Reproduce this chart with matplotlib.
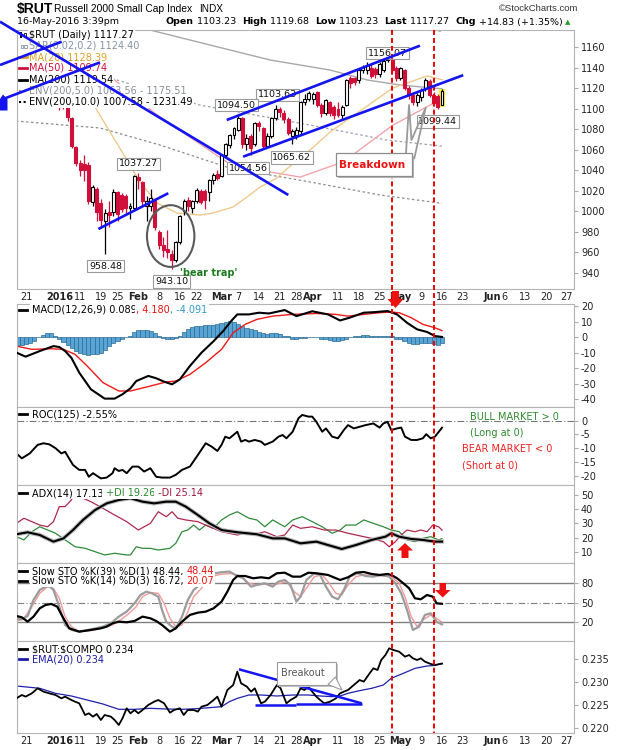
import matplotlib

matplotlib.use("Agg")

import matplotlib.pyplot as plt  # noqa: E402
import matplotlib.transforms as mtransforms  # noqa: E402
from matplotlib.lines import Line2D  # noqa: E402
from matplotlib.patches import Ellipse, Polygon, Rectangle  # noqa: E402

plt.rcParams["font.family"] = ["DejaVu Sans"]

# ---------------------------------------------------------------------------
# data: x is the trading-day index, 0 = 21 Dec 2015, 100 = 16 May 2016
# ---------------------------------------------------------------------------
DAY = list(range(8, 101))
OPEN = [1130, 1112, 1102, 1091, 1063, 1047, 1046, 1045, 1009, 1022, 1008, 990, 999,
        999, 1019, 1016, 1015, 1003, 1003, 1033, 1028, 1005, 1005, 1011, 980, 967, 963,
        958, 952, 970, 1000, 1011, 1003, 1010, 1020, 1020, 1019, 1030, 1036, 1034, 1055,
        1065, 1074, 1079, 1091, 1066, 1073, 1066, 1086, 1081, 1064, 1073, 1091, 1100,
        1096, 1090, 1073, 1074, 1078, 1107, 1110, 1110, 1116, 1104, 1096, 1107, 1102,
        1100, 1094, 1104, 1130, 1130, 1128, 1138, 1138, 1140, 1139, 1134, 1138, 1147.6,
        1152, 1140, 1130, 1138, 1120, 1113, 1107, 1111, 1120, 1127, 1113, 1112, 1103.23]
HIGH = [1136, 1120, 1104, 1092, 1064, 1050, 1055, 1048, 1026, 1024, 1012, 1002, 1010,
        1022, 1020, 1018, 1017, 1008, 1035, 1037.27, 1029, 1015, 1022, 1012, 982, 975,
        982, 962, 971, 996, 1012, 1014, 1011, 1023, 1022, 1022, 1031, 1037, 1040, 1056,
        1067, 1075, 1082, 1094.50, 1092, 1075, 1075, 1087, 1088, 1082, 1076, 1092,
        1103.63, 1102, 1099, 1092, 1080, 1082, 1108, 1114, 1117, 1116, 1117, 1106, 1110,
        1108, 1104, 1107, 1104, 1129, 1132, 1131, 1139, 1143, 1146, 1144, 1141, 1146,
        1149, 1156.07, 1153, 1142, 1141, 1139, 1122, 1116, 1115, 1120, 1130, 1129, 1116,
        1114, 1119.68]
LOW = [1099, 1100, 1088, 1062, 1044, 1034, 1029, 1007, 1005, 990, 984, 958.48, 985, 995,
       990, 999, 998, 992, 1000, 1022, 1005, 990, 1000, 982, 963, 955, 954, 943.10, 950,
       968, 996, 1000, 998, 1008, 1007, 1002, 1010, 1027, 1030, 1033, 1053, 1062, 1070,
       1078, 1062, 1060, 1054.56, 1064, 1078, 1062, 1062, 1071, 1089, 1092, 1086, 1074,
       1065.62, 1070, 1075, 1104, 1108, 1105, 1102, 1092, 1094, 1093, 1090, 1092, 1090,
       1103, 1120, 1123, 1125, 1135, 1134, 1130, 1130, 1131, 1136, 1146, 1135, 1127,
       1128, 1118, 1110, 1104, 1103, 1108, 1117, 1111, 1104, 1099.44, 1103.23]
CLOSE = [1112, 1104, 1092, 1064, 1047, 1040, 1040, 1010, 1024, 999, 991, 998, 996, 1019,
         997, 1002, 1003, 1005, 1034, 1030, 1010, 1010, 1013, 985, 967, 962, 960, 952,
         970, 995, 1010, 1005, 1010, 1021, 1009, 1011, 1030, 1035, 1032, 1055, 1066, 1074,
         1081, 1091, 1066, 1071, 1062, 1086, 1083, 1064, 1073, 1091, 1100, 1097, 1090,
         1076, 1078, 1079, 1107, 1110, 1115, 1114, 1104, 1096, 1108.6, 1096, 1094, 1094,
         1102, 1128, 1125, 1126, 1138, 1141, 1143, 1132, 1134, 1144, 1147, 1152, 1138,
         1130, 1140, 1120, 1113, 1107, 1113, 1118, 1128, 1113, 1106, 1102, 1117.27]

MA20_DAY = [10.6, 16.6, 27.4, 31.5, 36.3, 41.8, 45.0, 49.8, 53.1, 56.3, 60.3, 63.5,
            68.3, 73.1, 77.9, 83.4, 88.2, 93.0, 96.4, 100]
MA20_VAL = [1123, 1101.7, 1028.5, 1008.0, 998.2, 996.2, 998.2, 1004.1, 1013.8, 1023.6,
            1032.4, 1044.1, 1059.7, 1077.3, 1091.0, 1106.6, 1120.3, 1127.1, 1132.0, 1128.4]
MA50_DAY = [8.2, 17.8, 31.5, 49.0, 58.7, 65.9, 76.2, 88.2, 96.4, 100]
MA50_VAL = [1155, 1139.8, 1093.9, 1046.0, 1038.2, 1033.3, 1048.0, 1084.0, 1102.0, 1109.7]
MA200_DAY = [20, 29.8, 49.0, 58.7, 73.1, 82.0, 89.9, 100]
MA200_VAL = [1190, 1176.9, 1157.4, 1147.6, 1137.8, 1128.1, 1123.2, 1119.5]
ENV5_LO_DAY = [8, 17.8, 41.8, 68.3, 86.8, 100]
ENV5_LO_VAL = [1145, 1133.1, 1103.6, 1084.1, 1069.4, 1063.5]
ENV5_UP_DAY = [86, 93.9, 100]
ENV5_UP_VAL = [1182, 1177.5, 1175.5]
ENV10_LO_DAY = [-2.4, 17.8, 32.2, 49.0, 68.3, 85.1, 100]
ENV10_LO_VAL = [1088, 1081.2, 1064.6, 1042.1, 1028.5, 1015.8, 1007.6]

MACD_DAY = [-2.3, -0.1, 3.3, 6.6, 8.0, 9.4, 10.9, 12.8, 15.6, 18.9, 21.3, 23.2, 25.1,
            26.5, 29.4, 31.3, 33.2, 35.1, 37.0, 39.4, 42.2, 45.1, 47.4, 49.3, 50.8, 53.6,
            56.0, 58.4, 62.2, 65.0, 68.8, 72.6, 75.5, 77.8, 81.2, 84.0, 86.9, 89.2, 91.6,
            94.0, 96.4, 98.3, 100]
MACD_VAL = [-10.0, -12.6, -9.0, -5.8, -6.4, -9.0, -13.3, -22.9, -33.6, -39.6, -39.6,
            -36.8, -33.0, -28.3, -25.0, -26.5, -28.7, -30.4, -27.2, -18.6, -10.0, -2.6,
            3.9, 10.3, 14.6, 14.6, 15.7, 15.2, 17.4, 13.5, 16.6, 14.6, 10.7, 12.5, 15.7,
            16.1, 16.8, 14.6, 9.2, 5.0, 3.3, 0.7, 0.089]
SIGNAL_DAY = [-2.3, 1.4, 6.1, 9.0, 11.8, 14.7, 18.5, 22.3, 25.1, 29.9, 33.7, 36.0, 39.4,
              43.2, 47.0, 49.8, 52.7, 55.5, 59.3, 64.1, 69.8, 74.5, 77.4, 81.2, 85.0,
              87.8, 89.7, 92.6, 95.4, 98.3, 100]
SIGNAL_VAL = [-5.8, -7.9, -7.5, -7.9, -11.1, -18.6, -29.3, -34.7, -34.7, -31.5, -28.9,
              -28.3, -24.0, -16.5, -7.9, 2.8, 8.2, 11.4, 13.5, 14.6, 15.2, 14.6, 13.5,
              14.6, 15.7, 16.1, 15.7, 12.5, 8.2, 6.0, 4.18]
HIST_DAY = list(range(-2, 101))
HIST_VAL = [-5, -5, -4.5, -3.5, -2.5, 0, 1.5, 2.5, 2.5, 1, -1, -3, -5, -7, -9, -10, -11,
            -11.5, -11, -11, -10.5, -8, -6, -4, -2.5, -1.5, 0, 1, 3, 4.5, 4.5, 4.5, 4,
            2.5, 1, -0.5, -1, -1, -0.5, 1, 3, 5, 6.5, 7, 7, 7.5, 8, 8, 8.5, 9, 10, 10.5,
            9.5, 8.5, 7, 6, 5.5, 4.5, 3, 2.5, 2, 2.5, 2.5, 2, 1, 0.5, -1, -1, -0.5, -0.5,
            0, 0, 0, -1, -1.5, -2, -2.5, -2.5, -2, -1, 0, 0.5, 1, 1.5, 1.5, 1, 1, 1, 1,
            1, 0.5, -1, -1.5, -2.5, -3.5, -4.5, -4.5, -4, -4, -4, -4.5, -5, -4.1]

ROC_DAY = [-2.3, -1.0, 0.9, 2.8, 4.2, 5.6, 7.1, 8.5, 9.4, 11.3, 12.8, 14.2, 15.1, 16.1,
           18.0, 19.4, 20.8, 21.3, 22.3, 23.2, 24.2, 25.6, 27.0, 28.4, 29.9, 31.3, 32.7,
           34.6, 36.0, 37.5, 39.4, 41.3, 43.2, 44.6, 46.0, 47.0, 47.9, 48.9, 50.8, 51.7,
           52.7, 53.6, 55.0, 56.5, 57.4, 59.3, 60.7, 61.7, 62.6, 64.1, 65.5, 66.4, 67.9,
           68.8, 69.8, 71.2, 72.1, 73.6, 75.0, 76.4, 77.4, 78.8, 80.2, 81.6, 83.5, 85.0,
           85.9, 86.9, 87.8, 89.2, 90.2, 91.1, 92.6, 94.0, 95.4, 96.2, 97.3, 98.3, 100]
ROC_VAL = [-11.9, -13.7, -11.9, -8.8, -8.2, -8.6, -10.0, -11.9, -11.3, -16.1, -17.9,
           -17.9, -20.4, -19.1, -21.0, -20.7, -19.1, -17.3, -18.3, -17.9, -19.1, -16.7,
           -16.7, -18.5, -17.3, -20.4, -20.7, -20.7, -19.7, -17.9, -16.7, -12.5, -8.2,
           -9.4, -11.0, -8.8, -5.8, -6.4, -4.0, -7.6, -7.0, -7.6, -7.0, -7.6, -8.8, -7.6,
           -5.8, -5.2, -6.4, -4.0, 0.9, 2.1, 1.5, 1.5, -0.4, -4.0, -2.8, -5.8, -6.4, -3.4,
           -1.6, -2.8, -2.2, -1.6, -1.0, -2.5, -1.0, -0.4, -3.4, -2.8, -2.5, -5.8, -7.0,
           -7.0, -6.4, -4.9, -6.4, -5.8, -2.55]

ADX_DAY = [-2.3, 0.4, 3.3, 6.6, 9.0, 11.3, 13.7, 16.6, 19.4, 22.3, 25.1, 28.0, 30.8,
           33.7, 36.0, 38.4, 41.3, 44.1, 47.0, 50.8, 55.5, 59.3, 62.2, 66.0, 69.8, 72.6,
           75.9, 79.3, 83.1, 86.4, 87.8, 89.7, 92.6, 95.4, 98.3, 100]
ADX_VAL = [22.3, 23.7, 21.8, 17.1, 19.4, 25.3, 32.4, 39.4, 44.1, 46.5, 47.7, 45.3, 44.1,
           45.3, 45.3, 41.8, 35.9, 30.0, 25.3, 23.7, 22.3, 19.4, 19.4, 15.9, 17.1, 14.7,
           11.9, 14.7, 18.3, 20.6, 23.0, 20.6, 19.0, 18.3, 17.1, 17.13]
PDI_DAY = [-2.3, -0.5, 1.4, 3.3, 5.2, 7.1, 9.4, 11.8, 14.2, 16.6, 18.9, 21.3, 24.2, 25.1,
           26.5, 28.0, 29.9, 31.8, 34.6, 36.0, 37.5, 38.9, 40.3, 41.7, 43.2, 45.1, 47.0,
           48.9, 50.8, 52.2, 53.6, 55.5, 57.4, 59.3, 62.2, 64.1, 66.4, 68.8, 71.2, 73.6,
           75.5, 76.9, 79.3, 81.2, 83.5, 85.9, 87.8, 89.7, 91.6, 93.5, 95.4, 97.3, 99.2,
           100]
PDI_VAL = [20.6, 18.3, 24.1, 27.6, 25.3, 23.0, 18.3, 13.5, 12.4, 10.0, 7.7, 8.9, 7.7, 7.7,
           13.5, 12.4, 12.4, 11.2, 12.4, 15.9, 24.1, 25.3, 28.8, 25.3, 28.8, 26.5, 32.4,
           35.9, 38.2, 35.9, 33.6, 32.4, 27.6, 32.4, 27.6, 32.4, 34.7, 31.2, 27.6, 23.0,
           25.3, 28.8, 28.8, 32.4, 30.0, 27.6, 25.3, 24.1, 18.3, 17.1, 19.4, 20.6, 18.3,
           19.26]
MDI_DAY = [-2.3, -0.5, 1.4, 3.3, 5.2, 6.6, 8.0, 9.4, 10.9, 12.3, 13.7, 15.6, 18.5, 21.3,
           24.2, 27.0, 29.9, 31.8, 33.7, 35.1, 36.5, 38.4, 41.3, 44.1, 47.0, 50.8, 52.7,
           54.6, 57.4, 60.3, 62.2, 64.1, 66.0, 68.8, 71.7, 74.5, 77.4, 79.3, 83.1, 85.9,
           87.3, 88.8, 90.2, 91.6, 93.5, 94.9, 96.4, 97.8, 99.2, 100]
MDI_VAL = [30.0, 33.6, 31.2, 28.8, 27.6, 31.2, 41.8, 41.8, 46.5, 54.0, 47.7, 45.3, 40.6,
           35.9, 31.2, 25.3, 30.0, 38.2, 34.7, 38.2, 33.6, 32.4, 31.2, 27.6, 24.1, 21.8,
           23.0, 21.8, 24.1, 20.6, 21.8, 28.8, 26.5, 27.6, 25.3, 25.3, 23.0, 21.8, 19.4,
           17.1, 13.5, 17.1, 21.8, 25.3, 24.1, 25.3, 24.1, 28.8, 27.6, 25.14]

STO39_DAY = [-2.3, -1.0, 0.4, 1.8, 3.3, 4.7, 6.1, 7.5, 9.0, 10.4, 12.8, 15.6, 18.0, 19.4,
             20.8, 22.3, 24.2, 26.1, 28.0, 29.9, 31.3, 32.7, 34.6, 36.0, 37.5, 39.4, 41.3,
             43.2, 45.1, 47.0, 48.4, 49.8, 50.8, 52.7, 54.6, 56.5, 58.4, 60.3, 62.2, 64.1,
             66.0, 67.9, 69.8, 72.6, 75.5, 77.4, 79.3, 81.2, 83.1, 85.0, 86.9, 87.8, 89.2,
             90.7, 92.1, 93.5, 94.9, 96.4, 97.8, 98.7, 100]
STO39_VAL = [29.7, 27.6, 21.0, 28.7, 41.5, 46.6, 48.2, 44.1, 26.1, 10.7, 5.6, 8.2, 10.7,
             13.3, 18.4, 21.0, 20.0, 22.0, 28.7, 26.1, 22.0, 15.8, 5.6, 10.7, 21.0, 31.3,
             34.8, 36.4, 41.5, 51.7, 67.1, 85.1, 91.2, 91.2, 87.7, 89.2, 87.7, 95.4, 96.3,
             90.2, 90.2, 96.3, 95.4, 92.8, 85.1, 89.2, 96.3, 97.4, 94.3, 92.8, 94.3, 92.8,
             87.7, 80.0, 72.3, 56.9, 55.4, 62.0, 59.4, 49.2, 48.44]
STO14_DAY = [-2.3, -1.0, 0.4, 1.8, 3.3, 4.7, 5.6, 6.6, 8.0, 9.4, 10.9, 12.8, 15.6, 18.5,
             20.4, 22.3, 24.2, 26.1, 27.5, 28.9, 30.3, 31.8, 32.7, 33.7, 35.1, 36.0, 37.5,
             38.9, 40.3, 41.7, 42.7, 43.6, 45.1, 47.0, 48.9, 50.8, 52.2, 54.1, 55.5, 57.4,
             59.3, 60.7, 62.2, 63.6, 65.0, 66.0, 67.4, 69.3, 70.7, 72.1, 73.6, 75.0, 76.4,
             77.8, 79.7, 81.6, 83.5, 85.4, 87.3, 88.8, 90.2, 91.6, 93.0, 94.5, 95.9, 97.3,
             98.7, 100]
STO14_VAL = [26.1, 24.5, 29.7, 54.3, 69.7, 74.8, 75.8, 69.7, 44.1, 15.8, 8.2, 5.6, 9.2,
             13.3, 18.4, 28.7, 36.4, 49.2, 62.0, 67.1, 64.6, 59.4, 38.9, 21.0, 13.3, 10.7,
             28.7, 54.3, 69.7, 77.4, 85.1, 90.2, 95.0, 97.0, 98.0, 91.2, 87.7, 74.8, 77.4,
             80.0, 74.8, 82.6, 85.1, 77.4, 51.7, 59.4, 85.1, 95.4, 92.8, 74.8, 59.4, 55.4,
             69.7, 90.2, 95.4, 91.2, 90.2, 92.8, 90.2, 80.0, 64.6, 38.9, 8.2, 13.3, 31.3,
             33.8, 21.0, 16.72]
STOD_DAY = [-2.3, -0.5, 1.4, 3.3, 5.2, 6.6, 8.0, 9.4, 10.9, 12.8, 15.6, 18.5, 20.8, 22.7,
            24.6, 26.5, 28.0, 29.9, 31.8, 33.2, 34.6, 36.0, 37.5, 38.9, 40.3, 42.2, 43.6,
            45.1, 47.0, 49.3, 51.7, 53.6, 55.5, 57.4, 59.3, 61.2, 62.6, 64.5, 66.0, 67.4,
            69.3, 71.2, 72.6, 74.5, 75.9, 77.4, 79.3, 81.2, 83.5, 85.9, 87.8, 89.7, 91.1,
            92.6, 94.0, 95.4, 97.3, 98.7, 100]
STOD_VAL = [21.0, 26.1, 44.1, 64.6, 74.8, 72.3, 56.9, 28.7, 13.3, 5.6, 7.2, 11.8, 15.8,
            23.6, 32.8, 44.1, 59.4, 65.6, 64.6, 49.2, 26.1, 13.3, 15.8, 36.4, 59.4, 72.3,
            85.1, 91.2, 94.0, 95.0, 91.2, 80.0, 77.4, 79.0, 77.4, 80.0, 82.6, 67.1, 59.4,
            72.3, 90.2, 92.8, 82.6, 64.6, 62.0, 77.4, 90.2, 92.8, 92.8, 91.2, 90.2, 80.0,
            59.4, 28.7, 13.3, 23.6, 31.3, 26.1, 20.07]

RATIO_DAY = [-2.3, -1.0, -0.1, 1.4, 2.8, 4.2, 5.6, 7.1, 8.5, 9.4, 10.9, 11.8, 12.8, 14.2,
             15.1, 16.1, 17.0, 18.0, 18.9, 20.4, 21.3, 22.3, 23.2, 24.2, 25.1, 26.1, 27.0,
             28.0, 29.4, 30.8, 31.8, 33.2, 34.6, 35.6, 37.0, 37.9, 38.9, 40.3, 41.3, 42.2,
             43.6, 45.1, 46.0, 47.0, 48.4, 49.8, 50.8, 51.7, 53.1, 54.1, 55.0, 56.5, 57.4,
             58.8, 60.3, 61.2, 62.6, 63.6, 65.0, 66.0, 66.9, 67.9, 68.8, 69.8, 70.7, 71.7,
             73.1, 74.5, 75.5, 76.4, 77.4, 78.8, 80.2, 81.2, 82.6, 83.5, 84.5, 85.4, 86.4,
             87.3, 88.3, 89.7, 91.1, 92.1, 93.0, 94.0, 94.9, 95.9, 97.3, 98.3, 100]
RATIO_VAL = [0.22641, 0.22714, 0.22678, 0.22750, 0.22860, 0.22787, 0.22750, 0.22714,
             0.22641, 0.22678, 0.22605, 0.22568, 0.22532, 0.22277, 0.22314, 0.22241,
             0.22299, 0.22168, 0.22277, 0.22241, 0.22168, 0.22059, 0.22205, 0.22423,
             0.22314, 0.22386, 0.22314, 0.22386, 0.22496, 0.22568, 0.22605, 0.22532,
             0.22328, 0.22386, 0.22423, 0.22277, 0.22386, 0.22386, 0.22350, 0.22459,
             0.22496, 0.22605, 0.22678, 0.22459, 0.22823, 0.22932, 0.23223, 0.22969,
             0.22896, 0.22787, 0.22860, 0.22532, 0.22568, 0.22714, 0.22932, 0.22860,
             0.22532, 0.22605, 0.22678, 0.22860, 0.22823, 0.22896, 0.22787, 0.22678,
             0.22605, 0.22532, 0.22568, 0.22641, 0.22750, 0.22787, 0.22823, 0.22932,
             0.23041, 0.23005, 0.23187, 0.23296, 0.23260, 0.23478, 0.23587, 0.23733,
             0.23697, 0.23660, 0.23551, 0.23587, 0.23515, 0.23478, 0.23515, 0.23442,
             0.23391, 0.23369, 0.23400]
EMA_DAY = [-2.3, 3.3, 7.1, 10.9, 14.7, 18.5, 22.3, 26.1, 29.9, 33.7, 37.5, 41.3, 45.1,
           47.0, 48.9, 50.8, 53.6, 56.5, 60.3, 64.1, 67.9, 70.7, 73.6, 75.5, 77.4, 80.2,
           83.1, 85.9, 87.8, 90.7, 93.5, 96.4, 98.3, 100]
EMA_VAL = [0.22911, 0.22860, 0.22750, 0.22692, 0.22605, 0.22517, 0.22401, 0.22401,
           0.22423, 0.22408, 0.22401, 0.22416, 0.22445, 0.22459, 0.22568, 0.22641,
           0.22714, 0.22714, 0.22692, 0.22714, 0.22714, 0.22692, 0.22678, 0.22692,
           0.22750, 0.22809, 0.22860, 0.22932, 0.23078, 0.23187, 0.23296, 0.23347,
           0.23360, 0.23400]

DATE_DAY = [0, 8, 13, 18, 22, 27, 32, 37, 41, 47, 51, 56, 61, 65, 69, 75, 80, 85, 90, 95,
            100, 105, 112, 115, 120, 125, 130]
DATE_TXT = ["21", "2016", "11", "19", "25", "Feb", "8", "16", "22", "Mar", "7", "14",
            "21", "28", "Apr", "11", "18", "25", "May", "9", "16", "23", "Jun", "6", "13",
            "20", "27"]
DATE_BOLD = {"2016", "Feb", "Mar", "Apr", "May", "Jun"}

# price call-outs (text, day, price where the box sits)
PRICE_NOTES = [("1156.07", 86.9, 1154.4), ("1103.63", 60.5, 1113.7),
               ("1094.50", 50.6, 1103.6), ("1054.56", 53.4, 1042.1),
               ("1065.62", 63.9, 1052.5), ("1037.27", 27.0, 1046.3),
               ("958.48", 19.1, 946.4), ("943.10", 35.0, 931.5), ("1099.44", 99.0, 1087.7)]
# hand-drawn trend lines on the price panel, (day, price) pairs
PRICE_TRENDS = [((-6.25, 1185.0), (63.05, 1015.8)),
                ((-6.25, 1142.7), (8.58, 1165.5)),
                ((-5.05, 1110.2), (17.79, 1145.3)),
                ((17.4, 982.6), (34.2, 1017.5)),
                ((48.25, 1089.0), (94.7, 1161.6)),
                ((52.2, 1053.2), (105.1, 1132.8))]
RATIO_TRENDS = [((51.2, 0.23275), (80.7, 0.22532)),
                ((55.0, 0.22496), (65.0, 0.22496)),
                ((65.0, 0.22517), (80.7, 0.22517))]
SIGNAL_DAYS = [88, 98]

# ---------------------------------------------------------------------------
W, H = 620, 750
PLOT_L, PLOT_R = 16.6, 574.0
X0, DX = 26.0, 4.16
XLIM = ((PLOT_L - X0) / DX, (PLOT_R - X0) / DX)
RED = "#d0103a"
BLUE = "#1414f0"

fig = plt.figure(figsize=(W / 100, H / 100), dpi=100)
fig.patch.set_facecolor("white")
renderer = fig.canvas.get_renderer()


def fy(py):
    return 1 - py / H


def panel(top, bottom, ylim, ticks, labels):
    ax = fig.add_axes([PLOT_L / W, fy(bottom), (PLOT_R - PLOT_L) / W, (bottom - top) / H])
    ax.set_xlim(*XLIM)
    ax.set_ylim(*ylim)
    ax.set_xticks([])
    ax.yaxis.tick_right()
    ax.set_yticks(ticks)
    ax.set_yticklabels(labels)
    ax.tick_params(axis="y", length=3, width=0.8, color="#aaaaaa", labelsize=7,
                   pad=2, labelcolor="#222222")
    for sp in ax.spines.values():
        sp.set_color("#b4b4b4")
        sp.set_linewidth(0.8)
    return ax


def row(x, y, parts, size=7, icon=None, mask=True):
    if icon:
        fig.add_artist(Line2D([19 / W, 27 / W], [fy(y), fy(y)], color=icon, lw=2,
                              transform=fig.transFigure, zorder=5))
    for s, c, *w in parts:
        t = fig.text(x / W, fy(y), s, color=c, fontsize=size, va="center", ha="left",
                     zorder=4, fontweight=w[0] if w else "normal")
        if mask:
            t.set_bbox(dict(boxstyle="square,pad=0.12", fc="white", ec="none"))
        x += t.get_window_extent(renderer).width
    return x


def poly_px(pts, **kw):
    fig.add_artist(Polygon([(x / W, fy(y)) for x, y in pts], closed=True,
                           transform=fig.transFigure, **kw))


# ---- price panel ----------------------------------------------------------
price_ticks = list(range(940, 1161, 20))
ax_p = panel(30, 289, (924.0, 1176.9), price_ticks, [str(v) for v in price_ticks])
ax_p.plot(ENV10_LO_DAY, ENV10_LO_VAL, color="#8c8c8c", lw=0.9, ls=(0, (2, 2)), zorder=1)
ax_p.plot(ENV5_LO_DAY, ENV5_LO_VAL, color="#9aa2ad", lw=0.9, ls=(0, (2, 2)), zorder=1)
ax_p.plot(ENV5_UP_DAY, ENV5_UP_VAL, color="#9aa2ad", lw=0.9, ls=(0, (2, 2)), zorder=1)
ax_p.plot(MA200_DAY, MA200_VAL, color="#a8a8a8", lw=1.0, zorder=1)
ax_p.plot(MA50_DAY, MA50_VAL, color="#f2a4ac", lw=1.0, zorder=1)
ax_p.plot(MA20_DAY, MA20_VAL, color="#efc98e", lw=1.0, zorder=1)

up = [c >= o for o, c in zip(OPEN, CLOSE)]
edge = ["black" if u else RED for u in up]
face = ["white" if u else RED for u in up]
ax_p.bar(DAY[-1], 18.0, bottom=1101.5, width=1.5, color="#f4ee3a", zorder=2)
ax_p.vlines(DAY, LOW, HIGH, colors=edge, lw=0.9, zorder=3)
ax_p.bar(DAY, [max(abs(c - o), 0.8) for o, c in zip(OPEN, CLOSE)],
         bottom=[min(o, c) for o, c in zip(OPEN, CLOSE)], width=0.72, color=face,
         edgecolor=edge, linewidth=0.8, zorder=4)

for s, d, p in PRICE_NOTES:
    ax_p.text(d, p, s, fontsize=6.8, ha="center", va="center", color="#111111", zorder=7,
              bbox=dict(boxstyle="square,pad=0.18", fc="white", ec="#9a9a9a", lw=0.8))
ax_p.add_patch(Ellipse((34.78, 975.7), 11.4, 60.3, fill=False, ec="#5a5a5a", lw=1.5,
                       zorder=8))
fig.text(180 / W, fy(273.3), "'bear trap'", color="#1c7a1c", fontsize=7,
         fontweight="bold", va="center")

# ---- MACD -----------------------------------------------------------------
macd_ticks = [20, 10, 0, -10, -20, -30, -40]
ax_m = panel(304, 407, (-45.0, 21.3), macd_ticks, [str(v) for v in macd_ticks])
ax_m.bar(HIST_DAY, HIST_VAL, width=1.0, color="#58a4d4", edgecolor="#2b6c95",
         linewidth=0.5, zorder=1)
ax_m.plot(SIGNAL_DAY, SIGNAL_VAL, color="#f01818", lw=1.0, zorder=2)
ax_m.plot(MACD_DAY, MACD_VAL, color="black", lw=1.5, zorder=3)

# ---- ROC ------------------------------------------------------------------
roc_ticks = [0, -5, -10, -15, -20]
ax_r = panel(407, 485, (-23.4, 5.0), roc_ticks, [str(v) for v in roc_ticks])
ax_r.axhline(0, color="#777777", lw=0.8, ls=(0, (6, 2, 1, 2)), zorder=1)
ax_r.plot(ROC_DAY, ROC_VAL, color="black", lw=1.4, zorder=2)
for y, s, c, x in [(417.3, "BULL MARKET > 0", "#2e8b2e", 470), (433.3, "(Long at 0)", "#2e8b2e", 470),
                   (449, "BEAR MARKET < 0", "#ee2222", 462.5), (465, "(Short at 0)", "#ee2222", 462.5)]:
    fig.text(x / W, fy(y), s, color=c, fontsize=7, va="center", ha="left")

# ---- ADX ------------------------------------------------------------------
adx_ticks = [50, 40, 30, 20, 10]
ax_a = panel(485, 563, (2.03, 57.06), adx_ticks, [str(v) for v in adx_ticks])
ax_a.plot(PDI_DAY, PDI_VAL, color="#2f8a3a", lw=0.9, zorder=2)
ax_a.plot(MDI_DAY, MDI_VAL, color="#b02850", lw=0.9, zorder=2)
ax_a.plot(ADX_DAY, ADX_VAL, color="#bbbbbb", lw=3.0, zorder=3)
ax_a.plot(ADX_DAY, ADX_VAL, color="black", lw=1.5, zorder=4)

# ---- Slow stochastics -----------------------------------------------------
ax_s = panel(563, 641, (-8.8, 111.2), [80, 50, 20], ["80", "50", "20"])
for lvl in (80, 20):
    ax_s.axhline(lvl, color="#808080", lw=1.0, zorder=1)
ax_s.axhline(50, color="#808080", lw=0.8, ls=(0, (6, 2, 1, 2)), zorder=1)
ax_s.plot(STOD_DAY, STOD_VAL, color="#f29a9a", lw=1.0, zorder=2)
ax_s.plot(STO14_DAY, STO14_VAL, color="#9c9c9c", lw=1.6, zorder=3)
ax_s.plot(STO39_DAY, STO39_VAL, color="black", lw=1.6, zorder=4)

# ---- $RUT:$COMPQ ----------------------------------------------------------
ratio_ticks = [0.235, 0.230, 0.225, 0.220]
ax_q = panel(641, 733, (0.21884, 0.23893), ratio_ticks, [f"{v:.3f}" for v in ratio_ticks])
ax_q.plot(EMA_DAY, EMA_VAL, color="#2020b0", lw=0.9, zorder=2)
ax_q.plot(RATIO_DAY, RATIO_VAL, color="black", lw=1.3, zorder=3)
for (x1, y1), (x2, y2) in RATIO_TRENDS:
    ax_q.plot([x1, x2], [y1, y2], color=BLUE, lw=1.8, zorder=5, solid_capstyle="butt")
poly_px([(278.7, 663.7), (338, 663.7), (338, 687), (278.7, 687)], fc="#c4c4c4", ec="none", zorder=11)
poly_px([(276.7, 661.7), (336, 661.7), (336, 685), (276.7, 685)], fc="white", ec="#9a9a9a",
        lw=0.8, zorder=12)
poly_px([(328, 684.5), (342, 690), (335.5, 677)], fc="white", ec="#9a9a9a", lw=0.8, zorder=12)
fig.text(280.5 / W, fy(673.3), "Breakout", color="#555555", fontsize=7, va="center", zorder=13)

# ---- dates ----------------------------------------------------------------
blend = mtransforms.blended_transform_factory(ax_p.transData, fig.transFigure)
for d, s in zip(DATE_DAY, DATE_TXT):
    for yy in (297, 741):
        ax_p.text(d, fy(yy), s, transform=blend, ha="center", va="center", fontsize=7,
                  color="#222222", fontweight="bold" if s in DATE_BOLD else "normal")

# ---- legends ----------------------------------------------------------------
row(29, 35, [("\\$RUT (Daily) 1117.27", "black")])
fig.add_artist(Rectangle((20 / W, fy(38)), 2.5 / W, 6 / H, fc="black", transform=fig.transFigure, zorder=5))
fig.add_artist(Rectangle((23.5 / W, fy(37)), 2.5 / W, 4 / H, fc="white", ec="black", lw=0.6,
                         transform=fig.transFigure, zorder=5))
row(29, 46, [("SAR(0.02,0.2) 1124.40", "#8493a3")])
for xx in (20.5, 24.5):
    fig.add_artist(Rectangle((xx / W, fy(47.5)), 2.5 / W, 3 / H, fc="white", ec="#8493a3",
                             lw=0.6, transform=fig.transFigure, zorder=5))
row(29, 57, [("MA(20) 1128.39", "#dca02a")], icon="#dca02a")
row(29, 68, [("MA(50) 1109.74", RED)], icon=RED)
row(29, 79.5, [("MA(200) 1119.54", "black")], icon="black")
row(29, 90.5, [("ENV(200,5.0) 1063.56 - 1175.51", "#8a9098")])
row(29, 101.5, [("ENV(200,10.0) 1007.58 - 1231.49", "black")])
for yy, c in ((90.5, "#8a9098"), (101.5, "black")):
    fig.add_artist(Line2D([19 / W, 27 / W], [fy(yy), fy(yy)], color=c, lw=1.5, ls=(0, (1, 1.2)),
                          transform=fig.transFigure, zorder=5))

row(31.6, 310, [("MACD(12,26,9) 0.089", "black"), (", 4.180", "#ee1111"),
                (", -4.091", "#3399cc")], icon="black")
row(31.6, 414.3, [("ROC(125) -2.55%", "black")], icon="black")
row(31.6, 493.3, [("ADX(14) 17.13", "black"), (" +DI 19.26", "#2a8a2a"),
                  (" -DI 25.14", "#a01840")], icon="black")
row(31.6, 571, [("Slow STO %K(39) %D(1) 48.44, ", "black"), ("48.44", "#ee1111")], icon="black")
row(31.6, 580.7, [("Slow STO %K(14) %D(3) 16.72, ", "black"), ("20.07", "#ee1111")], icon="black")
row(31.6, 649.3, [("\\$RUT:\\$COMPQ 0.234", "black")], icon="black")
row(31.6, 659.3, [("EMA(20) 0.234", "#1a1aaa")], icon="#1a1aaa")

# ---- annotations drawn over everything --------------------------------------
for (x1, y1), (x2, y2) in PRICE_TRENDS:
    fig.add_artist(Line2D([x1, x2], [y1, y2], transform=ax_p.transData, color=BLUE, lw=1.9,
                          zorder=10, solid_capstyle="butt"))
poly_px([(0, 110.5), (0, 99), (3, 94.5), (7.5, 99.5), (7.5, 110.5)], fc=BLUE, ec="none", zorder=10)

for d in SIGNAL_DAYS:
    fig.add_artist(Line2D([d, d], [fy(30), fy(733)], transform=blend, color="#ee0000", lw=1.4,
                          ls=(0, (2.5, 1.6)), zorder=9))

poly_px([(392, 291), (399, 291), (399, 299), (403.5, 299), (395.5, 308), (387.5, 299),
         (392, 299)], fc="#ee1111", ec="none", zorder=11)
poly_px([(405, 543), (413, 550.5), (408.5, 550.5), (408.5, 558), (401.5, 558), (401.5, 550.5),
         (397, 550.5)], fc="#ee1111", ec="none", zorder=11)
poly_px([(439.5, 583), (446, 583), (446, 590), (450.5, 590), (442.7, 597.5), (435, 590),
         (439.5, 590)], fc="#ee1111", ec="none", zorder=11)

# breakdown call-out
fig.add_artist(Line2D([x / W for x in (406, 409, 411.5, 425.7, 414.3)],
                      [fy(y) for y in (153.3, 105, 140, 107.7, 158.3)],
                      transform=fig.transFigure, color="#9a9a9a", lw=1.3, zorder=11))
poly_px([(337.7, 155.5), (413.7, 155.5), (413.7, 177.7), (337.7, 177.7)], fc="#b8b8b8",
        ec="none", zorder=11)
poly_px([(335.7, 153.3), (411.7, 153.3), (411.7, 175.7), (335.7, 175.7)], fc="white",
        ec="#8c8c8c", lw=0.9, zorder=12)
fig.text(339 / W, fy(165), "Breakdown", color="#ee1111", fontsize=7.5, fontweight="bold",
         va="center", zorder=13)

# ---- header -------------------------------------------------------------------
fig.text(16.7 / W, fy(8.5), "\\$RUT", fontsize=10, fontweight="bold", family="Liberation Sans",
         va="center")
fig.text(54 / W, fy(8.5), "Russell 2000 Small Cap Index", fontsize=7.4,
         family="Liberation Sans", va="center")
fig.text(199 / W, fy(8.5), "INDX", fontsize=7.2, family="Liberation Sans", va="center")
fig.text(578 / W, fy(8.5), "\u00a9StockCharts.com", fontsize=6.8, family="Liberation Sans",
         va="center", ha="right", color="#333333")
fig.text(16.7 / W, fy(22), "16-May-2016 3:39pm", fontsize=6.8, va="center")
end = row(166, 22, [("Open", "black", "bold"), (" 1103.23  ", "black"),
                    ("High", "black", "bold"), (" 1119.68  ", "black"),
                    ("Low", "black", "bold"), (" 1103.23  ", "black"),
                    ("Last", "black", "bold"), (" 1117.27  ", "black"),
                    ("Chg", "black", "bold"), (" +14.83 (+1.35%)", "black")],
          size=6.8, mask=False)
fig.text((end + 5) / W, fy(22), "\u25b2", fontsize=5, color="#2a9a2a", va="center", ha="center")

fig.savefig("out.png", dpi=100)
plt.close(fig)
